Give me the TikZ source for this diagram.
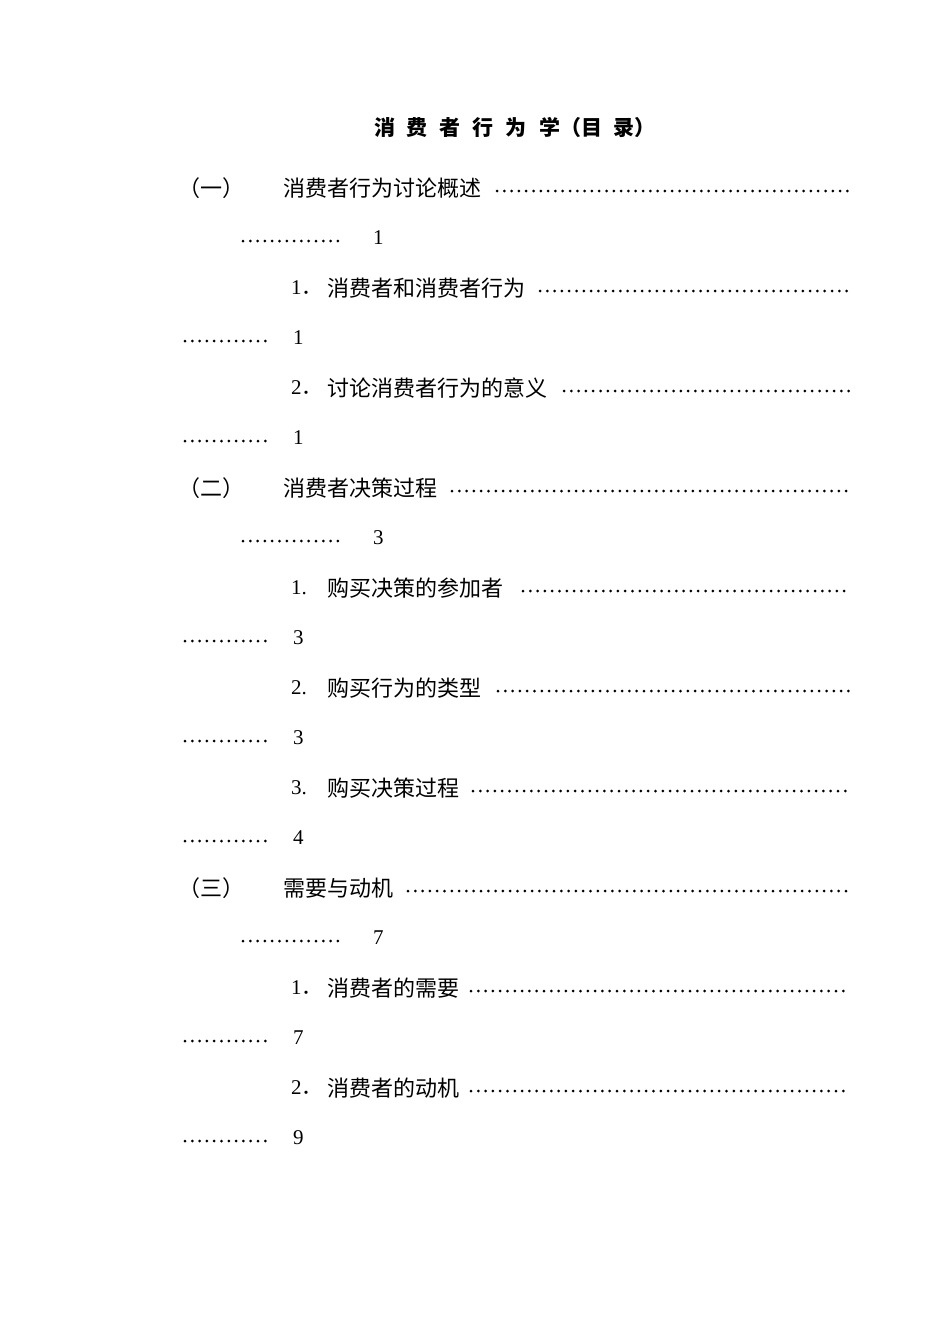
\documentclass[tikz,border=0pt]{standalone}
\usepackage{fontspec}
\setmainfont{Liberation Serif}
\newfontfamily\cjk{Noto Sans CJK SC}
\begin{document}
\begin{tikzpicture}[x=1pt,y=-1pt,
  zh/.style={anchor=west,inner sep=0,font=\cjk\fontsize{22}{22}\selectfont},
  num/.style={anchor=west,inner sep=0,font=\fontsize{21}{21}\selectfont},
  leader/.style={line width=3pt,line cap=round,dash pattern=on 0pt off 7.3pt}]
\useasboundingbox (0,0) rectangle (950,1344);
\node[inner sep=0,font=\cjk\bfseries\fontsize{21}{21}\selectfont] (title) at (515,127) {消\hspace{12pt}费\hspace{12pt}者\hspace{12pt}行\hspace{12pt}为\hspace{12pt}学（目\hspace{12pt}录）};
\newcommand\secrow[5]{% y, label, text, dotstart, num
  \node[zh] (l#1) at (178,#1) {#2};
  \node[zh] (t#1) at (283,#1) {#3};
  \coordinate (a#1) at (#4,#1+3); \coordinate (b#1) at (850,#1+3);
  \draw[leader] (a#1) -- (b#1);
  \coordinate (c#1) at (243,#1+53); \coordinate (d#1) at (345,#1+53);
  \draw[leader] (c#1) -- (d#1);
  \node[num] (n#1) at (373,#1+50) {#5};}
\newcommand\subrow[5]{% y, number, text, dotstart, page
  \node[num] (s#1) at (291,#1) {#2};
  \node[zh] (t#1) at (327,#1) {#3};
  \coordinate (a#1) at (#4,#1+3); \coordinate (b#1) at (850,#1+3);
  \draw[leader] (a#1) -- (b#1);
  \coordinate (c#1) at (185,#1+53); \coordinate (d#1) at (268,#1+53);
  \draw[leader] (c#1) -- (d#1);
  \node[num] (n#1) at (293,#1+50) {#5};}
\secrow{188}{（一）}{消费者行为讨论概述}{497}{1}
\subrow{288}{1{\cjk ．}}{消费者和消费者行为}{540}{1}
\subrow{388}{2{\cjk ．}}{讨论消费者行为的意义}{564}{1}
\secrow{488}{（二）}{消费者决策过程}{452}{3}
\subrow{588}{1.}{购买决策的参加者}{523}{3}
\subrow{688}{2.}{购买行为的类型}{498}{3}
\subrow{788}{3.}{购买决策过程}{473}{4}
\secrow{888}{（三）}{需要与动机}{408}{7}
\subrow{988}{1{\cjk ．}}{消费者的需要}{471}{7}
\subrow{1088}{2{\cjk ．}}{消费者的动机}{471}{9}
\end{tikzpicture}
\end{document}
